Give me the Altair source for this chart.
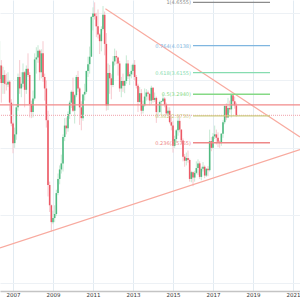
import altair as alt
import pandas as pd

start_year, start_month = 2006, 5

opens = [3.52, 3.72, 3.46, 3.58, 3.45, 3.44, 3.48, 3.17,
         2.86, 2.57, 2.70, 3.10, 3.55, 3.38, 3.45, 3.62, 3.36, 3.67, 3.58, 3.15,
         3.03, 3.23, 3.81, 3.84, 3.94, 3.62, 3.90, 3.55, 3.38, 2.91, 1.95, 1.65,
         1.40, 1.46, 1.52, 1.83, 2.04, 2.18, 2.27, 2.66, 2.83, 2.79, 3.00, 3.17,
         3.33, 3.05, 3.28, 3.55, 3.38, 3.10, 2.94, 3.29, 3.33, 3.64, 3.74, 3.85,
         4.44, 4.49, 4.45, 4.30, 4.18, 4.08, 4.26, 4.47, 4.04, 3.13, 3.61, 3.53,
         3.43, 3.78, 3.86, 3.84, 3.75, 3.38, 3.49, 3.42, 3.49, 3.75, 3.56, 3.59,
         3.64, 3.73, 3.55, 3.42, 3.18, 3.31, 3.05, 3.13, 3.26, 3.32, 3.30, 3.20,
         3.39, 3.21, 3.24, 3.03, 3.03, 3.18, 3.19, 3.23, 3.14, 3.01, 3.05, 2.88,
         2.83, 2.53, 2.63, 2.76, 2.90, 2.77, 2.61, 2.37, 2.31, 2.35, 2.32, 2.04,
         2.14, 2.06, 2.13, 2.20, 2.27, 2.07, 2.19, 2.22, 2.09, 2.19, 2.17, 2.60,
         2.50, 2.67, 2.70, 2.65, 2.59, 2.57, 2.71, 2.88, 3.12, 2.95, 3.09, 3.07,
         3.28, 3.19, 3.13]

closes = [3.72, 3.46, 3.58, 3.45, 3.44, 3.48, 3.17, 2.86,
          2.57, 2.70, 3.10, 3.55, 3.38, 3.45, 3.62, 3.36, 3.67, 3.58, 3.15, 3.03,
          3.23, 3.81, 3.84, 3.94, 3.62, 3.90, 3.55, 3.38, 2.91, 1.95, 1.65, 1.40,
          1.46, 1.52, 1.83, 2.04, 2.18, 2.27, 2.66, 2.83, 2.79, 3.00, 3.17, 3.33,
          3.05, 3.28, 3.55, 3.38, 3.10, 2.94, 3.29, 3.33, 3.64, 3.74, 3.85, 4.44,
          4.49, 4.45, 4.30, 4.18, 4.08, 4.26, 4.47, 4.04, 3.13, 3.61, 3.53, 3.43,
          3.78, 3.86, 3.84, 3.75, 3.38, 3.49, 3.42, 3.49, 3.75, 3.56, 3.59, 3.64,
          3.73, 3.55, 3.42, 3.18, 3.31, 3.05, 3.13, 3.26, 3.32, 3.30, 3.20, 3.39,
          3.21, 3.24, 3.03, 3.03, 3.18, 3.19, 3.23, 3.14, 3.01, 3.05, 2.88, 2.83,
          2.53, 2.63, 2.76, 2.90, 2.77, 2.61, 2.37, 2.31, 2.35, 2.32, 2.04, 2.14,
          2.06, 2.13, 2.20, 2.27, 2.07, 2.19, 2.22, 2.09, 2.19, 2.17, 2.60, 2.50,
          2.67, 2.70, 2.65, 2.59, 2.57, 2.71, 2.88, 3.12, 2.95, 3.09, 3.07, 3.28,
          3.19, 3.13, 2.98]

highs = [4.08, 3.80, 3.70, 3.65, 3.60, 3.62, 3.50, 3.22,
         2.88, 2.80, 3.15, 3.60, 3.80, 3.62, 3.75, 3.64, 3.72, 3.90, 3.62, 3.20,
         3.35, 3.90, 3.99, 4.02, 3.96, 3.96, 4.08, 3.60, 3.50, 3.05, 2.00, 1.66,
         1.57, 1.65, 1.88, 2.12, 2.24, 2.40, 2.70, 2.94, 2.95, 3.04, 3.20, 3.35,
         3.54, 3.30, 3.58, 3.64, 3.40, 3.19, 3.30, 3.45, 3.64, 3.85, 4.00, 4.45,
         4.58, 4.6555, 4.50, 4.55, 4.20, 4.30, 4.60, 4.52, 4.20, 3.75, 3.73, 3.59,
         3.86, 3.97, 3.94, 3.85, 3.79, 3.55, 3.60, 3.50, 3.87, 3.80, 3.62, 3.73,
         3.75, 3.80, 3.58, 3.45, 3.40, 3.37, 3.20, 3.38, 3.37, 3.35, 3.31, 3.42,
         3.40, 3.32, 3.26, 3.15, 3.20, 3.20, 3.30, 3.25, 3.17, 3.10, 3.10, 2.97,
         2.90, 2.68, 2.78, 2.95, 2.97, 2.78, 2.64, 2.41, 2.43, 2.46, 2.34, 2.16,
         2.15, 2.16, 2.30, 2.33, 2.30, 2.22, 2.29, 2.24, 2.20, 2.23, 2.77, 2.66,
         2.72, 2.83, 2.77, 2.73, 2.61, 2.72, 2.91, 3.13, 3.16, 3.24, 3.20, 3.30,
         3.25, 3.26, 3.17]

lows = [3.50, 3.17, 3.30, 3.30, 3.35, 3.40, 3.05, 2.82,
        2.42, 2.50, 2.62, 3.05, 3.30, 3.25, 3.40, 3.10, 3.30, 3.55, 2.95, 2.94,
        2.95, 3.20, 3.60, 3.76, 3.50, 3.53, 3.48, 3.20, 2.80, 1.78, 1.55, 1.26,
        1.37, 1.40, 1.49, 1.80, 1.96, 2.12, 2.15, 2.60, 2.70, 2.74, 2.93, 3.09,
        3.03, 2.86, 3.25, 3.33, 2.84, 2.76, 2.90, 3.20, 3.30, 3.55, 3.60, 3.85,
        4.24, 4.40, 4.14, 4.12, 3.89, 3.93, 4.24, 3.87, 3.05, 3.06, 3.30, 3.22,
        3.40, 3.72, 3.74, 3.57, 3.33, 3.25, 3.33, 3.31, 3.45, 3.52, 3.43, 3.53,
        3.58, 3.50, 3.38, 3.03, 3.17, 2.99, 3.01, 3.11, 3.20, 3.21, 3.13, 3.15,
        3.17, 3.18, 2.87, 2.95, 3.02, 3.00, 3.18, 3.10, 2.98, 2.97, 2.86, 2.76,
        2.43, 2.50, 2.58, 2.68, 2.73, 2.55, 2.30, 2.22, 2.24, 2.28, 2.00, 1.99,
        1.9325, 2.00, 2.11, 2.10, 2.04, 2.02, 2.15, 2.05, 2.07, 2.08, 2.15, 2.45,
        2.48, 2.63, 2.55, 2.51, 2.50, 2.53, 2.65, 2.85, 2.91, 2.94, 3.02, 2.95,
        3.12, 3.08, 2.96]

fib_labels = ["1(4.6555)", "0.764(4.0138)", "0.618(3.6155)", "0.5(3.2940)", "0.382(2.9730)", "0.236(2.5755)"]
fib_values = [4.6555, 4.0138, 3.6155, 3.2940, 2.9730, 2.5755]
fib_colors = ["#8c8c8c", "#7fb6e0", "#86dcb0", "#86d986", "#cccc80", "#ee8888"]
fib_start, fib_end = 2016.0, 2019.85

trend_down_t = [2011.62, 2021.35]
trend_down_v = [4.56, 2.66]
trend_up_t = [2006.35, 2021.35]
trend_up_v = [1.018, 2.474]
hline_value = 3.136
last_price = 2.98

year_ticks = [2007, 2009, 2011, 2013, 2015, 2017, 2019, 2021]
y_grid = [0.5 + 0.25 * i for i in range(17)]

UP_BODY, DOWN_BODY = "#4fba80", "#ec5865"
UP_WICK, DOWN_WICK = "#bfe7cf", "#f6c3ca"

n = len(opens)
t = [start_year + (start_month - 1 + i) / 12 for i in range(n)]
df = pd.DataFrame({"t": t, "open": opens, "high": highs, "low": lows, "close": closes})
up = [c >= o for o, c in zip(opens, closes)]
df["body_c"] = [UP_BODY if u else DOWN_BODY for u in up]
df["wick_c"] = [UP_WICK if u else DOWN_WICK for u in up]

xs = alt.Scale(domain=[2006.35, 2021.35], nice=False, zero=False)
ys = alt.Scale(domain=[0.38, 4.69], nice=False, zero=False)
xax = alt.Axis(values=year_ticks, format="d", labelFontSize=5.5, labelColor="#333",
               labelFont="DejaVu Sans", grid=True, gridColor="#e2ebf2", gridWidth=1,
               ticks=False, domainColor="#c4c4c4", domainWidth=1.5, labelPadding=1,
               title=None, labelFlush=False)
yax = alt.Axis(values=y_grid, grid=True, gridColor="#edf1f5", labels=False, ticks=False,
               domain=False, title=None, orient="right", labelPadding=0)

X = alt.X("t:Q", scale=xs, axis=xax)

wicks = alt.Chart(df).mark_rule(strokeWidth=0.9, clip=True).encode(
    x=X, y=alt.Y("low:Q", scale=ys, axis=yax), y2="high:Q",
    color=alt.Color("wick_c:N", scale=None, legend=None))
bodies = alt.Chart(df).mark_rule(strokeWidth=1.6, clip=True).encode(
    x=X, y=alt.Y("open:Q", scale=ys), y2="close:Q",
    color=alt.Color("body_c:N", scale=None, legend=None))

tdown = alt.Chart(pd.DataFrame({"t": trend_down_t, "v": trend_down_v})).mark_line(
    color="#f8aa9f", strokeWidth=1.2, clip=True).encode(x=X, y=alt.Y("v:Q", scale=ys))
tup = alt.Chart(pd.DataFrame({"t": trend_up_t, "v": trend_up_v})).mark_line(
    color="#f8aa9f", strokeWidth=1.2, clip=True).encode(x=X, y=alt.Y("v:Q", scale=ys))

hl = alt.Chart(pd.DataFrame({"v": [hline_value]})).mark_rule(color="#f28a8a", strokeWidth=1.2).encode(
    y=alt.Y("v:Q", scale=ys))
lp = alt.Chart(pd.DataFrame({"v": [last_price]})).mark_rule(
    color="#f3b3ba", strokeWidth=1.2, strokeDash=[1, 1]).encode(y=alt.Y("v:Q", scale=ys))

fib_df = pd.DataFrame({"label": fib_labels, "v": fib_values, "c": fib_colors,
                       "t0": [fib_start] * 6, "t1": [fib_end] * 6})
fib_lines = alt.Chart(fib_df).mark_rule(strokeWidth=1.3).encode(
    x=alt.X("t0:Q", scale=xs), x2="t1:Q", y=alt.Y("v:Q", scale=ys),
    color=alt.Color("c:N", scale=None))
fib_text = alt.Chart(fib_df).mark_text(align="right", baseline="middle", dx=-2, fontSize=5,
                                       font="DejaVu Sans").encode(
    x=alt.X("t0:Q", scale=xs), y=alt.Y("v:Q", scale=ys), text="label:N",
    color=alt.Color("c:N", scale=None))

chart = alt.layer(wicks, bodies, tdown, tup, hl, lp, fib_lines, fib_text).properties(
    width=300, height=291, padding={"left": 0, "top": 0, "right": 0, "bottom": 9},
    autosize=alt.AutoSizeParams(type="none"),
    background="white").configure_view(stroke=None)

chart.save("out.html", embed_options={"renderer": "svg", "actions": False})
